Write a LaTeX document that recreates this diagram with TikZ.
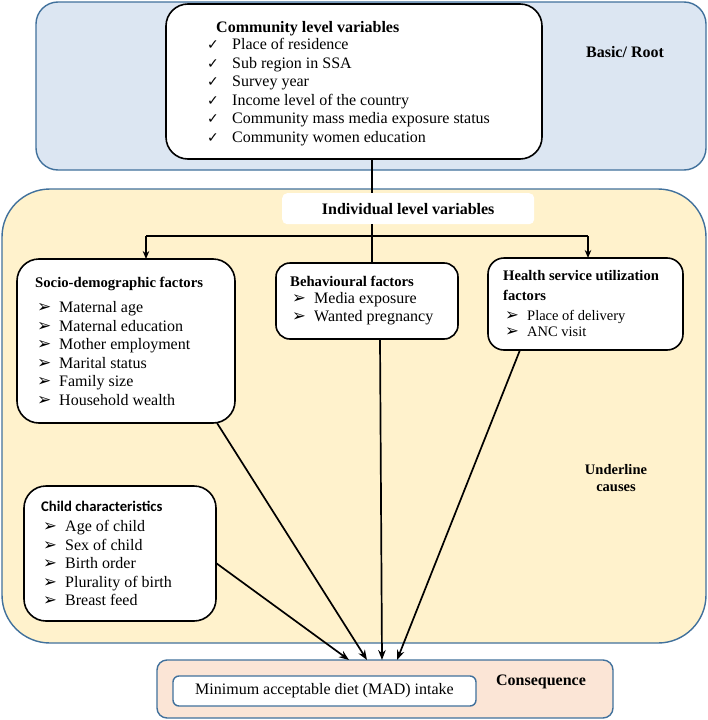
\documentclass[tikz,border=0pt]{standalone}
\usepackage{fontspec}
\setmainfont{Liberation Serif}
\newfontfamily\djv{DejaVu Sans}
\newfontfamily\carl{Carlito}
\usetikzlibrary{arrows.meta,calc}
\definecolor{bluefill}{HTML}{DCE6F2}
\definecolor{blueline}{HTML}{41719C}
\definecolor{yellowfill}{HTML}{FFF2CC}
\definecolor{peach}{HTML}{FBE5D6}
\newcommand\ckitem[1]{\makebox[25pt][l]{\djv\fontsize{14}{12}\selectfont ✓}#1}
\newcommand\aritem[1]{\makebox[22pt][l]{\djv\fontsize{17}{12}\selectfont ➢}#1}
\newcommand\aritemb[1]{\makebox[22pt][l]{\djv\fontsize{16.5}{12}\selectfont ➢}#1}
\begin{document}
\begin{tikzpicture}[x=1pt,y=-1pt,
  frame/.style={draw=blueline, line width=1.4pt, anchor=north west, inner sep=0pt, outer sep=0pt},
  wbox/.style={draw=black, fill=white, line width=1.6pt, anchor=north west, inner sep=0pt, outer sep=0pt},
  txt/.style={anchor=north west, inner sep=0pt, align=left, font=\fontsize{16}{18.5}\selectfont},
  ttl/.style={anchor=north west, inner sep=0pt, align=left, font=\bfseries\fontsize{14.7}{18.5}\selectfont},
  lbl/.style={inner sep=0pt, align=center, font=\bfseries\fontsize{16}{18}\selectfont},
  line/.style={line width=1.7pt},
  conn/.style={line width=1.7pt, -{Stealth[length=10pt,width=7.5pt]}},
  sconn/.style={line width=1.7pt, -{Stealth[length=8pt,width=6.5pt]}}]
\useasboundingbox (0,0) rectangle (708,720);
\fill[white] (0,0) rectangle (708,720);

% Basic / Root
\node[frame, fill=bluefill, rounded corners=22pt, minimum width=670pt, minimum height=168pt] (root) at (36,2) {};
\node[wbox, rounded corners=22pt, minimum width=376pt, minimum height=155pt] (comm) at (166,4) {};
\node[ttl, font=\bfseries\fontsize{16}{18.5}\selectfont] (commt) at (216,21) {Community level variables};
\node[txt] (commi) at (207,38.5) {\ckitem{Place of residence}\\\ckitem{Sub region in SSA}\\\ckitem{Survey year}\\\ckitem{Income level of the country}\\\ckitem{Community mass media exposure status}\\\ckitem{Community women education}};
\node[lbl] (basic) at (625,52) {Basic/ Root};

% Underline causes
\node[frame, fill=yellowfill, rounded corners=48pt, minimum width=704pt, minimum height=454pt] (under) at (2,189) {};
\node[anchor=north west, fill=white, rounded corners=5pt, inner sep=0pt, minimum width=252pt, minimum height=31pt] (ind) at (282,193) {};
\node[lbl] (indt) at (ind.center) {Individual level variables};
\node[lbl, font=\bfseries\fontsize{14.5}{17}\selectfont] (undert) at (616,478) {Underline\\causes};

\node[wbox, rounded corners=22pt, minimum width=218pt, minimum height=164pt] (socio) at (17,259) {};
\node[ttl] (sociot) at (35,276.5) {Socio-demographic factors};
\node[txt] (socioi) at (37,301.5) {\aritem{Maternal age}\\\aritem{Maternal education}\\\aritem{Mother employment}\\\aritem{Marital status}\\\aritem{Family size}\\\aritem{Household wealth}};

\node[wbox, rounded corners=14pt, minimum width=182pt, minimum height=76pt] (beh) at (276,263) {};
\node[ttl] (beht) at (290,275.5) {Behavioural factors};
\node[txt, font=\fontsize{16}{18}\selectfont] (behi) at (292,292.5) {\aritemb{Media exposure}\\\aritemb{Wanted pregnancy}};

\node[wbox, rounded corners=16pt, minimum width=195pt, minimum height=92pt] (health) at (488,258) {};
\node[ttl, font=\bfseries\fontsize{14.6}{20}\selectfont] (healtht) at (503,270.5) {Health service utilization\\factors};
\node[txt, font=\fontsize{14.5}{16.5}\selectfont] (healthi) at (505,310) {\aritemb{Place of delivery}\\\aritemb{ANC visit}};

\node[wbox, rounded corners=22pt, minimum width=192pt, minimum height=135pt] (child) at (24,486) {};
\node[ttl, font=\carl\bfseries\fontsize{14.7}{18.5}\selectfont] (childt) at (41,500.5) {Child characteristics};
\node[txt] (childi) at (43,520.5) {\aritemb{Age of child}\\\aritemb{Sex of child}\\\aritemb{Birth order}\\\aritemb{Plurality of birth}\\\aritemb{Breast feed}};

% Consequence
\node[frame, fill=peach, rounded corners=10pt, minimum width=456pt, minimum height=58pt] (cons) at (157,660) {};
\node[frame, fill=white, rounded corners=6pt, minimum width=303pt, minimum height=30pt] (mad) at (173,676) {};
\node[inner sep=0pt, font=\fontsize{16}{18}\selectfont] (madt) at (mad.center) {Minimum acceptable diet (MAD) intake};
\node[lbl] (const) at (541,682) {Consequence};

% connectors
\coordinate (jx) at (372,236);
\coordinate (bl) at (146,236);
\coordinate (br) at (588,236);
\draw[line] (comm.south -| jx) -- (ind.north -| jx);
\draw[line] (ind.south -| jx) -- (beh.north -| jx);
\draw[line] (bl) -- (br);
\draw[sconn] (bl) -- (socio.north -| bl);
\draw[sconn] (br) -- (health.north -| br);

\draw[conn] ([yshift=-77pt]child.north east) -- ([xshift=192pt]cons.north west);
\draw[conn] ([xshift=200pt]socio.south west) -- ([xshift=210pt]cons.north west);
\draw[conn] ([xshift=104pt]beh.south west) -- ([xshift=225pt]cons.north west);
\draw[conn] ([xshift=32pt]health.south west) -- ([xshift=240pt]cons.north west);
\end{tikzpicture}
\end{document}
